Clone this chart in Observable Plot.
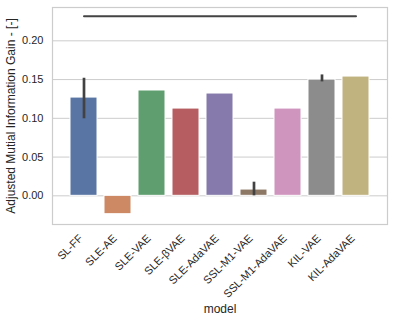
<!DOCTYPE html>
<html>
<head>
<meta charset="utf-8">
<script src="https://cdn.jsdelivr.net/npm/d3@7"></script>
<script src="https://cdn.jsdelivr.net/npm/@observablehq/plot@0.6"></script>
<style>
  html, body { margin: 0; padding: 0; background: #fff; }
  svg { display: block; }
</style>
</head>
<body>
<div id="chart"></div>
<script>
const models = ["SL-FF", "SLE-AE", "SLE-VAE", "SLE-βVAE", "SLE-AdaVAE", "SSL-M1-VAE", "SSL-M1-AdaVAE", "KIL-VAE", "KIL-AdaVAE"];
const values = [0.1268, -0.0237, 0.1359, 0.1126, 0.1320, 0.0081, 0.1126, 0.1500, 0.1539];
const errLow = [0.0994, null, null, null, null, 0.0000, null, 0.1470, null];
const errHigh = [0.1517, null, null, null, null, 0.0176, null, 0.1560, null];
const colors = ["#5975a4", "#cc8963", "#5f9e6e", "#b55d60", "#857aab", "#8d7866", "#d095bf", "#8c8c8c", "#c1b37f"];
const refValue = 0.2317;
const yTicks = [0.00, 0.05, 0.10, 0.15, 0.20];
const yLabel = "Adjusted Mutial Information Gain - [-]";
const xLabel = "model";

const data = models.map((m, i) => ({model: m, value: values[i], lo: errLow[i], hi: errHigh[i]}));
const errData = data.filter(d => d.lo != null);
const refLine = [{model: models[0], y: refValue}, {model: models[models.length - 1], y: refValue}];

const chart = Plot.plot({
  width: 394,
  height: 322,
  marginLeft: 52,
  marginRight: 7,
  marginTop: 7,
  marginBottom: 98,
  style: {fontFamily: "'Liberation Sans', Arial, sans-serif", fontSize: "11px", color: "#262626", background: "#fff"},
  x: {domain: models, paddingInner: 0.2, paddingOuter: 0.44, label: null},
  y: {domain: [-0.037, 0.243], label: null},
  color: {domain: models, range: colors},
  marks: [
    Plot.gridY(yTicks, {stroke: "#cccccc", strokeOpacity: 1, strokeWidth: 1}),
    Plot.barY(data, {x: "model", y: "value", fill: "model", stroke: "white", strokeWidth: 1}),
    Plot.ruleX(errData, {x: "model", y1: "lo", y2: "hi", stroke: "#424242", strokeWidth: 2.7}),
    Plot.lineY(refLine, {x: "model", y: "y", stroke: "#444444", strokeWidth: 2}),
    Plot.frame({stroke: "#cccccc", strokeWidth: 1.2}),
    Plot.axisY(yTicks, {tickSize: 0, tickPadding: 9, tickFormat: d3.format(".2f"), label: null, fontSize: 11}),
    Plot.axisX({tickSize: 0, tickPadding: 12, dx: -3, tickRotate: -45, label: null, fontSize: 11}),
    Plot.text([yLabel], {frameAnchor: "left", textAnchor: "middle", text: d => d, rotate: -90, dx: -41.5, fontSize: 12, fill: "#262626"}),
    Plot.text([xLabel], {frameAnchor: "bottom", text: d => d, dy: 88, fontSize: 12, fill: "#262626"})
  ]
});
document.getElementById("chart").appendChild(chart);
</script>
</body>
</html>
